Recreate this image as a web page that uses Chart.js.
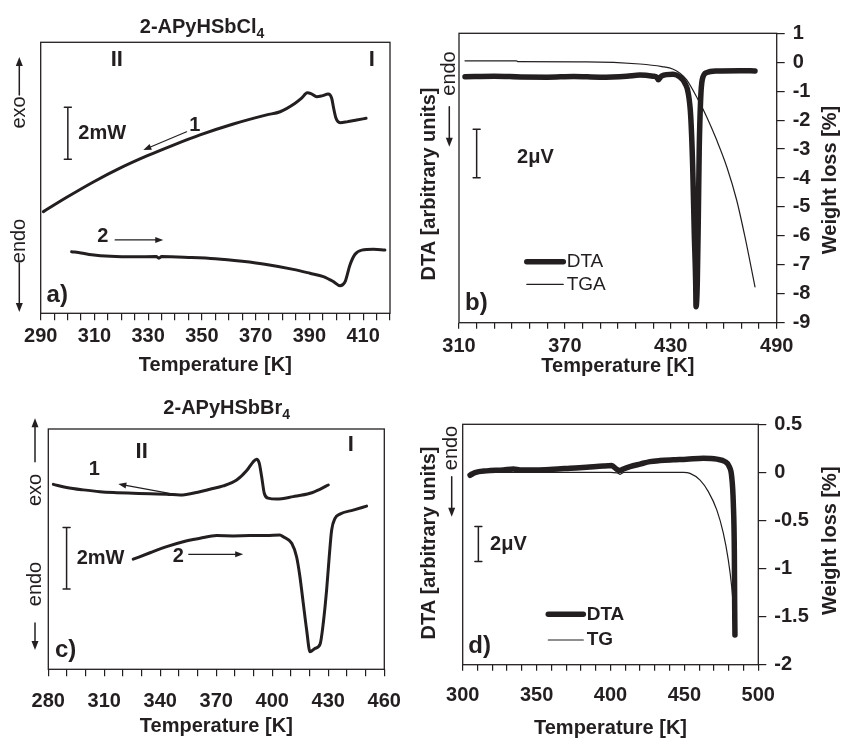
<!DOCTYPE html>
<html>
<head>
<meta charset="utf-8">
<script src="https://cdn.jsdelivr.net/npm/chart.js@4.4.0/dist/chart.umd.min.js"></script>
<style>
html, body { margin: 0; padding: 0; background: #fff; }
#fig { position: relative; width: 841px; height: 740px; overflow: hidden; }
canvas { position: absolute; }
</style>
</head>
<body>
<div id="fig">
  <canvas id="pa" width="420" height="380" style="left:0;top:0"></canvas>
  <canvas id="pb" width="421" height="380" style="left:420px;top:0"></canvas>
  <canvas id="pc" width="420" height="365" style="left:0;top:375px"></canvas>
  <canvas id="pd" width="421" height="365" style="left:420px;top:375px"></canvas>
</div>
<script>
const INK = '#231f20';
const FONT = "'Liberation Sans', Arial, sans-serif";

// a) 2-APyHSbCl4 DSC, heat flow in mW (1 = cooling, 2 = heating)
const aCoolT = [291.0, 299.7, 309.6, 319.5, 329.5, 339.4, 349.3, 361.7, 374.1, 379.1, 384.7, 387.1, 389.2, 390.9, 392.7, 394.6, 397.0, 398.3, 398.9, 399.9, 401.4, 403.9, 407.6, 411.1];
const aCoolV = [3.91, 4.46, 5.05, 5.58, 6.05, 6.47, 6.86, 7.28, 7.63, 7.75, 8.08, 8.27, 8.48, 8.43, 8.33, 8.36, 8.43, 8.27, 7.95, 7.50, 7.33, 7.36, 7.43, 7.50];
const aHeatT = [301.5, 305, 309, 316, 325, 333, 334, 335, 345, 355, 365, 374, 384, 390.2, 395.2, 398.9, 401.4, 403.3, 405.1, 407.0, 409.5, 413.8, 418.1];
const aHeatV = [2.37, 2.32, 2.25, 2.19, 2.17, 2.18, 2.12, 2.18, 2.15, 2.10, 2.00, 1.88, 1.69, 1.54, 1.41, 1.22, 1.06, 1.22, 1.86, 2.27, 2.43, 2.46, 2.43];

// b) 2-APyHSbCl4 DTA (uV) and TGA (%)
const bDtaT = [313.4, 330, 345, 360, 375, 390, 405, 412.5, 420, 422, 422.9, 424.8, 431.4, 435.2, 438, 439.9, 441.3, 442.4, 443.3, 444.1, 444.3, 445.0, 445.6, 446.1, 446.9, 447.8, 450.3, 456, 469.2, 477.7];
const bDtaV = [10.20, 10.22, 10.19, 10.18, 10.21, 10.18, 10.22, 10.27, 10.22, 10.18, 10.07, 10.23, 10.30, 10.18, 9.93, 9.51, 8.54, 6.47, 3.71, 1.63, 0.66, 1.63, 4.40, 7.16, 9.24, 10.07, 10.37, 10.44, 10.45, 10.44];
const bTgaT = [313.4, 342.5, 343.5, 382, 412.5, 425, 431.4, 435.2, 439, 445.6, 450.3, 456, 461.7, 467.3, 472, 477.7];
const bTgaW = [0.05, 0.05, 0.02, 0.01, -0.06, -0.15, -0.24, -0.38, -0.61, -1.31, -1.88, -2.69, -3.61, -4.76, -6.03, -7.76];

// c) 2-APyHSbBr4 DSC, heat flow in mW
const cCoolT = [282.7, 289.8, 298.8, 307.7, 316.6, 325.5, 334.5, 343.4, 350.5, 361.2, 366.6, 373.7, 380.9, 386.3, 389.8, 391.6, 393.0, 394.3, 395.7, 397.8, 402.3, 411.2, 420.2, 425.5, 430.0];
const cCoolV = [6.03, 5.93, 5.85, 5.79, 5.76, 5.74, 5.72, 5.71, 5.68, 5.79, 5.87, 5.98, 6.17, 6.48, 6.77, 6.85, 6.72, 6.28, 5.74, 5.58, 5.55, 5.63, 5.74, 5.87, 6.01];
const cHeatT = [325.5, 334.5, 343.4, 352.3, 361.3, 370.2, 379.1, 388.0, 397.0, 404.1, 405.9, 410.4, 413.0, 414.8, 416.6, 418.4, 420.2, 422.9, 425.6, 427.3, 429.1, 430.5, 431.8, 433.6, 436.2, 443.3, 450.5];
const cHeatV = [3.59, 3.80, 4.00, 4.16, 4.27, 4.36, 4.35, 4.36, 4.36, 4.38, 4.32, 4.11, 3.67, 3.02, 2.15, 1.28, 0.57, 0.68, 0.82, 1.50, 2.59, 3.67, 4.54, 4.92, 5.06, 5.19, 5.32];

// d) 2-APyHSbBr4 DTA (uV) and TG (%)
const dDtaT = [305.0, 308.3, 316.2, 327.5, 334.3, 338.8, 350.1, 361.3, 372.6, 383.9, 395.2, 400.8, 404.2, 406.4, 408.7, 413.2, 420.0, 426.7, 433.5, 442.5, 451.5, 462.8, 471.9, 477.5, 480.4, 482.0, 483.1, 483.8, 484.0, 484.2];
const dDtaV = [10.82, 10.97, 11.07, 11.12, 11.18, 11.12, 11.12, 11.16, 11.22, 11.28, 11.35, 11.37, 11.16, 11.09, 11.18, 11.31, 11.46, 11.60, 11.66, 11.70, 11.73, 11.79, 11.74, 11.60, 11.31, 10.74, 9.22, 6.37, 3.51, 1.70];
const dTgT = [305, 400, 404.5, 406.5, 409, 449.3, 453.8, 460.6, 466.2, 471.9, 476.3, 479.7, 482.0, 483.1, 483.6];
const dTgW = [0, 0, -0.005, -0.02, 0, 0, -0.01, -0.08, -0.20, -0.39, -0.63, -0.91, -1.19, -1.40, -1.52];

function pts(xs, ys) {
  return xs.map((x, i) => ({x: x, y: ys[i]}));
}

function arrow(ctx, x1, y1, x2, y2, lw, hl, hw) {
  const ang = Math.atan2(y2 - y1, x2 - x1);
  const c = Math.cos(ang), s = Math.sin(ang);
  ctx.lineWidth = lw;
  ctx.beginPath();
  ctx.moveTo(x1, y1);
  ctx.lineTo(x2 - c * hl * 0.8, y2 - s * hl * 0.8);
  ctx.stroke();
  ctx.beginPath();
  ctx.moveTo(x2, y2);
  ctx.lineTo(x2 - hl * c + hw / 2 * s, y2 - hl * s - hw / 2 * c);
  ctx.lineTo(x2 - hl * c - hw / 2 * s, y2 - hl * s + hw / 2 * c);
  ctx.closePath();
  ctx.fill();
}

// frame, labels, arrows, scale bars and in-plot legend
const decor = {
  id: 'decor',
  afterDraw(chart, args, opts) {
    const ctx = chart.ctx;
    const a = chart.chartArea;
    const xs = chart.scales.x, ys = chart.scales[opts.yAxis];
    const P = (x, y, data) => data ? [xs.getPixelForValue(x), ys.getPixelForValue(y)] : [x, y];
    ctx.save();
    ctx.strokeStyle = INK;
    ctx.fillStyle = INK;
    ctx.lineWidth = 1.3;
    ctx.strokeRect(a.left, a.top, a.right - a.left, a.bottom - a.top);
    opts.items.forEach(it => {
      if (it.type === 'text') {
        const [x, y] = P(it.x, it.y, it.data);
        ctx.save();
        ctx.translate(x, y);
        if (it.rot) ctx.rotate(it.rot);
        ctx.font = it.font;
        ctx.textAlign = it.align || 'center';
        ctx.textBaseline = 'middle';
        ctx.fillText(it.text, 0, 0);
        ctx.restore();
      } else if (it.type === 'title') {
        ctx.font = 'bold 20px ' + FONT;
        const w1 = ctx.measureText(it.text).width;
        ctx.font = 'bold 14px ' + FONT;
        const w2 = ctx.measureText(it.sub).width;
        const x0 = it.x - (w1 + w2) / 2;
        ctx.textAlign = 'left';
        ctx.textBaseline = 'middle';
        ctx.font = 'bold 20px ' + FONT;
        ctx.fillText(it.text, x0, it.y);
        ctx.font = 'bold 14px ' + FONT;
        ctx.fillText(it.sub, x0 + w1, it.y + 7);
      } else if (it.type === 'arrow') {
        const [x1, y1] = P(it.x1, it.y1, it.data);
        const [x2, y2] = P(it.x2, it.y2, it.data);
        arrow(ctx, x1, y1, x2, y2, it.lw || 1.2, it.hl || 8, it.hw || 6);
      } else if (it.type === 'bar') {
        const [x, y1] = P(it.x, it.y1, true);
        const [, y2] = P(it.x, it.y2, true);
        ctx.lineWidth = 1.5;
        ctx.lineCap = 'round';
        ctx.beginPath();
        ctx.moveTo(x, y1); ctx.lineTo(x, y2);
        ctx.moveTo(x - 3.5, y1); ctx.lineTo(x + 3.5, y1);
        ctx.moveTo(x - 3.5, y2); ctx.lineTo(x + 3.5, y2);
        ctx.stroke();
      } else if (it.type === 'line') {
        const [x1, y] = P(it.x1, it.y, true);
        const [x2] = P(it.x2, it.y, true);
        ctx.lineWidth = it.lw;
        ctx.lineCap = 'round';
        ctx.beginPath();
        ctx.moveTo(x1, y); ctx.lineTo(x2, y);
        ctx.stroke();
      }
    });
    ctx.restore();
  }
};

function xAxis(min, max, step, every, tl, pad, h, titlePad) {
  return {
    type: 'linear', position: 'bottom', min: min, max: max,
    afterFit: s => { s.height = h; },
    border: {display: false},
    grid: {drawOnChartArea: false, drawTicks: true, tickLength: tl, color: INK, lineWidth: 1.2},
    ticks: {
      stepSize: step, autoSkip: false, maxRotation: 0, minRotation: 0, padding: pad, color: INK,
      font: {family: FONT, size: 20, weight: 'bold'},
      callback: v => ((v - min) % every === 0 ? String(v) : '')
    },
    title: {
      display: true, text: 'Temperature [K]', color: INK,
      font: {family: FONT, size: 20, weight: 'bold'},
      padding: {top: 0, bottom: titlePad}
    }
  };
}

function rAxis(min, max, step, w) {
  return {
    type: 'linear', position: 'right', min: min, max: max,
    afterFit: s => { s.width = w; },
    border: {display: false},
    grid: {drawOnChartArea: false, drawTicks: true, tickLength: 8, color: INK, lineWidth: 1.2},
    ticks: {
      stepSize: step, padding: 8, color: INK, font: {family: FONT, size: 20, weight: 'bold'},
      callback: v => String(Math.round(v * 10) / 10)
    }
  };
}

function hidden(max, pos) {
  return {type: 'linear', display: false, position: pos || 'left', min: 0, max: max};
}

function line(xs, ys, axis, width) {
  return {
    data: pts(xs, ys), yAxisID: axis, borderColor: INK, borderWidth: width,
    cubicInterpolationMode: 'monotone', fill: false, pointRadius: 0,
    borderCapStyle: 'round', borderJoinStyle: 'round'
  };
}

function opts(scales, pad, yAxis, items) {
  return {
    responsive: false, animation: false, devicePixelRatio: 1,
    layout: {padding: pad},
    plugins: {legend: {display: false}, tooltip: {enabled: false}, decor: {yAxis: yAxis, items: items}},
    scales: scales
  };
}

const B20 = 'bold 20px ' + FONT, B22 = 'bold 22px ' + FONT, B24 = 'bold 24px ' + FONT;
const R19 = '19px ' + FONT, R20 = '20px ' + FONT, B19 = 'bold 19px ' + FONT;
const UP = -Math.PI / 2;

// panel a
new Chart(document.getElementById('pa'), {
  type: 'line',
  data: {datasets: [line(aCoolT, aCoolV, 'y', 3), line(aHeatT, aHeatV, 'y', 3)]},
  options: opts(
    {x: xAxis(290, 420, 5, 20, 7, 4.4, 66.7, 3), y: hidden(10.42)},
    {left: 40.7, top: 42.3, right: 30, bottom: 0}, 'y', [
      {type: 'title', text: '2-APyHSbCl', sub: '4', x: 202, y: 27},
      {type: 'text', text: 'II', x: 318.3, y: 9.74, data: true, font: B22},
      {type: 'text', text: 'I', x: 413.2, y: 9.74, data: true, font: B22},
      {type: 'bar', x: 300.1, y1: 5.92, y2: 7.92},
      {type: 'text', text: '2mW', x: 304.0, y: 6.92, data: true, font: B20, align: 'left'},
      {type: 'text', text: '1', x: 347.4, y: 7.24, data: true, font: B20},
      {type: 'arrow', x1: 344.3, y1: 6.98, x2: 328.2, y2: 6.28, data: true},
      {type: 'text', text: '2', x: 313.1, y: 2.95, data: true, font: B20},
      {type: 'arrow', x1: 317.7, y1: 2.82, x2: 335.6, y2: 2.82, data: true},
      {type: 'text', text: 'a)', x: 292.2, y: 0.70, data: true, font: B24, align: 'left'},
      {type: 'arrow', x1: 19.3, y1: 95, x2: 19.3, y2: 57, lw: 1.5, hl: 9, hw: 7},
      {type: 'text', text: 'exo', x: 19.5, y: 112.5, rot: UP, font: R20},
      {type: 'text', text: 'endo', x: 19.5, y: 241, rot: UP, font: R20},
      {type: 'arrow', x1: 19.3, y1: 263, x2: 19.3, y2: 312, lw: 1.5, hl: 9, hw: 7}
    ]),
  plugins: [decor]
});

// panel b
new Chart(document.getElementById('pb'), {
  type: 'line',
  data: {datasets: [line(bTgaT, bTgaW, 'yR', 1.2), line(bDtaT, bDtaV, 'yL', 5.5)]},
  options: opts(
    {x: xAxis(310, 490, 10, 60, 6, 6, 57.3, 1.3), yL: hidden(12), yR: rAxis(-9, 1, 1, 64.3)},
    {left: 39, top: 33.3, right: 0, bottom: 0}, 'yL', [
      {type: 'bar', x: 320.0, y1: 6.01, y2: 8.02},
      {type: 'text', text: '2\u03bcV', x: 342.9, y: 6.87, data: true, font: B20, align: 'left'},
      {type: 'line', x1: 348.4, x2: 369.1, y: 2.53, lw: 5.5},
      {type: 'text', text: 'DTA', x: 371.0, y: 2.53, data: true, font: R19, align: 'left'},
      {type: 'line', x1: 348.4, x2: 369.1, y: 1.59, lw: 1.2},
      {type: 'text', text: 'TGA', x: 371.0, y: 1.59, data: true, font: R19, align: 'left'},
      {type: 'text', text: 'b)', x: 313.4, y: 0.80, data: true, font: B24, align: 'left'},
      {type: 'text', text: 'DTA [arbitrary units]', x: 9, y: 184, rot: UP, font: B20},
      {type: 'text', text: 'endo', x: 29, y: 73.5, rot: UP, font: R20},
      {type: 'arrow', x1: 29.3, y1: 106.7, x2: 29.3, y2: 146.7, lw: 1.5, hl: 9, hw: 7},
      {type: 'text', text: 'Weight loss [%]', x: 410, y: 180, rot: UP, font: B20}
    ]),
  plugins: [decor]
});

// panel c
new Chart(document.getElementById('pc'), {
  type: 'line',
  data: {datasets: [line(cCoolT, cCoolV, 'y', 3), line(cHeatT, cHeatV, 'y', 3)]},
  options: opts(
    {x: xAxis(280, 460, 10, 30, 7, 13.4, 70.7, 1.3), y: hidden(7.835)},
    {left: 48.3, top: 54, right: 35.7, bottom: 0}, 'y', [
      {type: 'title', text: '2-APyHSbBr', sub: '4', x: 226.7, y: 33.3},
      {type: 'text', text: 'II', x: 330.0, y: 7.09, data: true, font: B22},
      {type: 'text', text: 'I', x: 442.1, y: 7.31, data: true, font: B22},
      {type: 'text', text: '1', x: 304.6, y: 6.5, data: true, font: B20},
      {type: 'arrow', x1: 351.4, y1: 5.66, x2: 317.5, y2: 6.04, data: true},
      {type: 'text', text: '2', x: 349.6, y: 3.67, data: true, font: B20},
      {type: 'arrow', x1: 355, y1: 3.75, x2: 384.4, y2: 3.75, data: true},
      {type: 'bar', x: 289.8, y1: 2.62, y2: 4.62},
      {type: 'text', text: '2mW', x: 295.2, y: 3.62, data: true, font: B20, align: 'left'},
      {type: 'text', text: 'c)', x: 283.6, y: 0.63, data: true, font: B24, align: 'left'},
      {type: 'arrow', x1: 35, y1: 86.7, x2: 35, y2: 43.3, lw: 1.5, hl: 9, hw: 7},
      {type: 'text', text: 'exo', x: 35, y: 115, rot: UP, font: R20},
      {type: 'text', text: 'endo', x: 35, y: 209, rot: UP, font: R20},
      {type: 'arrow', x1: 35, y1: 248, x2: 35, y2: 275, lw: 1.5, hl: 9, hw: 7}
    ]),
  plugins: [decor]
});

// panel d
new Chart(document.getElementById('pd'), {
  type: 'line',
  data: {datasets: [line(dTgT, dTgW, 'yR', 1.2), line(dDtaT, dDtaV, 'yL', 5.5)]},
  options: opts(
    {x: xAxis(300, 500, 10, 50, 6, 12.3, 75.3, 0), yL: hidden(13.73), yR: rAxis(-2, 0.5, 0.5, 82.7)},
    {left: 42.7, top: 49.3, right: 0, bottom: 0}, 'yL', [
      {type: 'bar', x: 310.6, y1: 5.89, y2: 7.89},
      {type: 'text', text: '2\u03bcV', x: 318.5, y: 6.84, data: true, font: B20, align: 'left'},
      {type: 'line', x1: 357.9, x2: 381.6, y: 2.88, lw: 5.5},
      {type: 'text', text: 'DTA', x: 383.9, y: 2.88, data: true, font: B19, align: 'left'},
      {type: 'line', x1: 357.9, x2: 381.6, y: 1.41, lw: 1.2},
      {type: 'text', text: 'TG', x: 383.9, y: 1.41, data: true, font: B19, align: 'left'},
      {type: 'text', text: 'd)', x: 303.8, y: 1.03, data: true, font: B24, align: 'left'},
      {type: 'text', text: 'DTA [arbitrary units]', x: 9, y: 168, rot: UP, font: B20},
      {type: 'text', text: 'endo', x: 31.7, y: 73, rot: UP, font: R20},
      {type: 'arrow', x1: 31.7, y1: 101.7, x2: 31.7, y2: 141.7, lw: 1.5, hl: 9, hw: 7},
      {type: 'text', text: 'Weight loss [%]', x: 410, y: 165.7, rot: UP, font: B20}
    ]),
  plugins: [decor]
});
</script>
</body>
</html>
